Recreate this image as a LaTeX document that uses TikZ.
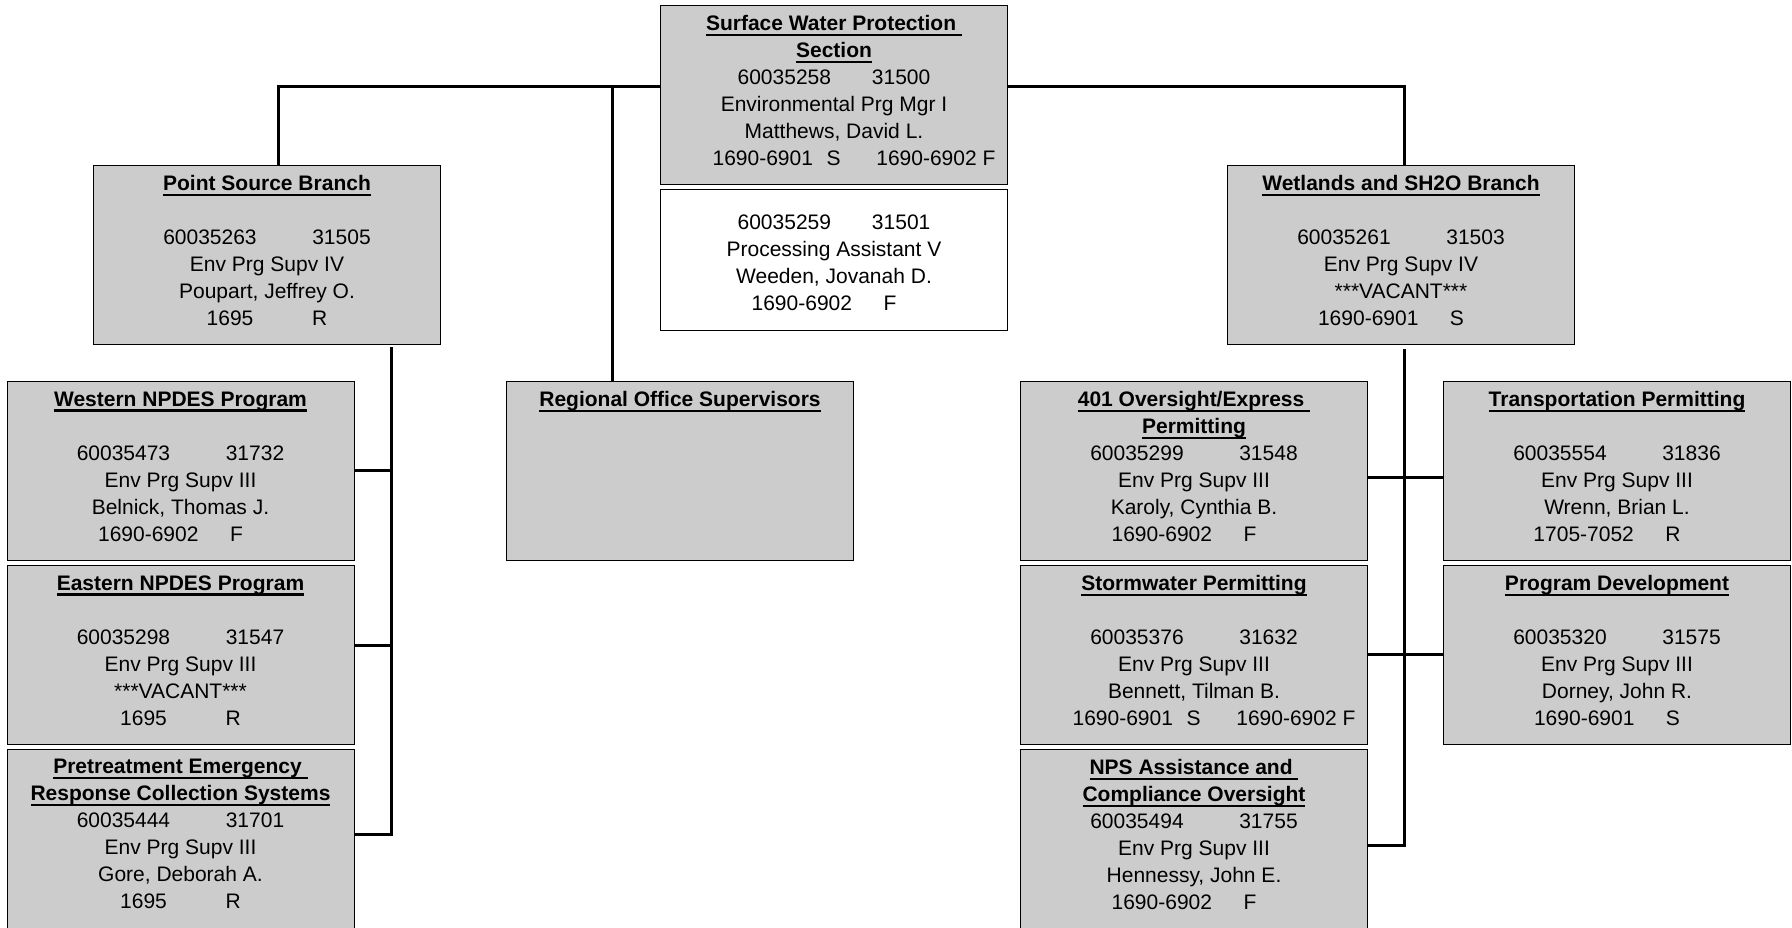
\documentclass[tikz,border=0pt]{standalone}
\usepackage{fontspec}
\setmainfont{Liberation Sans}
\usetikzlibrary{positioning}
\definecolor{boxgray}{HTML}{CCCCCC}
\newcommand{\ttl}[1]{\setbox0\hbox{\textbf{#1}}\rlap{\rule[-2.8pt]{\wd0}{1.1pt}}\box0}
\begin{document}
\begin{tikzpicture}[x=0.5pt,y=-0.5pt,
    unit box/.style={rectangle,draw,fill=boxgray,line width=0.5pt,minimum width=173.5pt,minimum height=89.5pt,inner sep=0pt},
    info/.style={anchor=north,align=center,inner sep=0pt,yshift=-5.25pt,font=\fontsize{10.5}{13.5}\selectfont},
    link/.style={line width=1.5pt}]
    \useasboundingbox (0,0) rectangle (1792,927);

    % boxes
    \node[unit box] (swp) at (834,94.5) {};
    \node[unit box,fill=white,minimum height=70.5pt] (asst) at (834,259.5) {};
    \node[unit box] (psb) at (267,254.5) {};
    \node[unit box] (wet) at (1401,254.5) {};
    \node[unit box] (reg) at (680,470.5) {};
    \node[unit box] (wnp) at (180.5,470.5) {};
    \node[unit box] (enp) at (180.5,654.5) {};
    \node[unit box] (pre) at (180.5,838.5) {};
    \node[unit box] (ovs) at (1194,470.5) {};
    \node[unit box] (trn) at (1617,470.5) {};
    \node[unit box] (stw) at (1194,654.5) {};
    \node[unit box] (pgd) at (1617,654.5) {};
    \node[unit box] (nps) at (1194,838.5) {};

    % texts
    \node[info] at (swp.north) {\ttl{Surface Water Protection\ }\\ \ttl{Section}\\ 60035258\hspace{1.95em}31500\\ Environmental Prg Mgr I\\ Matthews, David L.\\ \hspace*{20pt}1690-6901\hspace{0.65em}S\hspace{1.7em}1690-6902 F};
    \node[info] at ([yshift=-7.5pt]asst.north) {60035259\hspace{1.95em}31501\\ Processing Assistant V\\ Weeden, Jovanah D.\\ 1690-6902\hspace{1.5em}F\hspace*{10pt}};
    \node[info] at (psb.north) {\ttl{Point Source Branch}\\[13.5pt] 60035263\hspace{2.65em}31505\hspace*{10pt}\\ Env Prg Supv IV\\ Poupart, Jeffrey O.\\ 1695\hspace{2.8em}R};
    \node[info] at (wet.north) {\ttl{Wetlands and SH2O Branch}\\[13.5pt] 60035261\hspace{2.65em}31503\hspace*{10pt}\\ Env Prg Supv IV\\ ***VACANT***\\ 1690-6901\hspace{1.5em}S\hspace*{10pt}};
    \node[info] at (reg.north) {\ttl{Regional Office Supervisors}};
    \node[info] at (wnp.north) {\ttl{Western NPDES Program}\\[13.5pt] 60035473\hspace{2.65em}31732\hspace*{10pt}\\ Env Prg Supv III\\ Belnick, Thomas J.\\ 1690-6902\hspace{1.5em}F\hspace*{10pt}};
    \node[info] at (enp.north) {\ttl{Eastern NPDES Program}\\[13.5pt] 60035298\hspace{2.65em}31547\hspace*{10pt}\\ Env Prg Supv III\\ ***VACANT***\\ 1695\hspace{2.8em}R};
    \node[info] at (pre.north) {\ttl{Pretreatment Emergency\ }\\ \ttl{Response Collection Systems}\\ 60035444\hspace{2.65em}31701\hspace*{10pt}\\ Env Prg Supv III\\ Gore, Deborah A.\\ 1695\hspace{2.8em}R};
    \node[info] at (ovs.north) {\ttl{401 Oversight/Express\ }\\ \ttl{Permitting}\\ 60035299\hspace{2.65em}31548\hspace*{10pt}\\ Env Prg Supv III\\ Karoly, Cynthia B.\\ 1690-6902\hspace{1.5em}F\hspace*{10pt}};
    \node[info] at (trn.north) {\ttl{Transportation Permitting}\\[13.5pt] 60035554\hspace{2.65em}31836\hspace*{10pt}\\ Env Prg Supv III\\ Wrenn, Brian L.\\ 1705-7052\hspace{1.5em}R\hspace*{10pt}};
    \node[info] at (stw.north) {\ttl{Stormwater Permitting}\\[13.5pt] 60035376\hspace{2.65em}31632\hspace*{10pt}\\ Env Prg Supv III\\ Bennett, Tilman B.\\ \hspace*{20pt}1690-6901\hspace{0.65em}S\hspace{1.7em}1690-6902 F};
    \node[info] at (pgd.north) {\ttl{Program Development}\\[13.5pt] 60035320\hspace{2.65em}31575\hspace*{10pt}\\ Env Prg Supv III\\ Dorney, John R.\\ 1690-6901\hspace{1.5em}S\hspace*{10pt}};
    \node[info] at (nps.north) {\ttl{NPS Assistance and\ }\\ \ttl{Compliance Oversight}\\ 60035494\hspace{2.65em}31755\hspace*{10pt}\\ Env Prg Supv III\\ Hennessy, John E.\\ 1690-6902\hspace{1.5em}F\hspace*{10pt}};

    % connectors
    \coordinate (tl) at (278,86);
    \coordinate (tr) at (1404,86);
    \coordinate (rg) at (612,86);
    \coordinate (lb) at (391.5,347);
    \coordinate (le) at (391.5,834);
    \coordinate (rb) at (1404,349);
    \coordinate (re) at (1404,845);

    \draw[link] (tl |- psb.north) -- (tl) -- (swp.west |- tl);
    \draw[link] (swp.east |- tr) -- (tr) -- (tr |- wet.north);
    \draw[link] (rg) -- (rg |- reg.north);
    \draw[link] (lb) -- (le) -- (le -| pre.east);
    \draw[link] (wnp.east) -- (wnp.east -| lb);
    \draw[link] ([yshift=4.75pt]enp.east) -- ([yshift=4.75pt]enp.east -| lb);
    \draw[link] (rb) -- (re) -- (re -| nps.east);
    \draw[link] ([yshift=-3.25pt]ovs.east) -- ([yshift=-3.25pt]trn.west);
    \draw[link] (stw.east) -- (pgd.west);
\end{tikzpicture}
\end{document}
